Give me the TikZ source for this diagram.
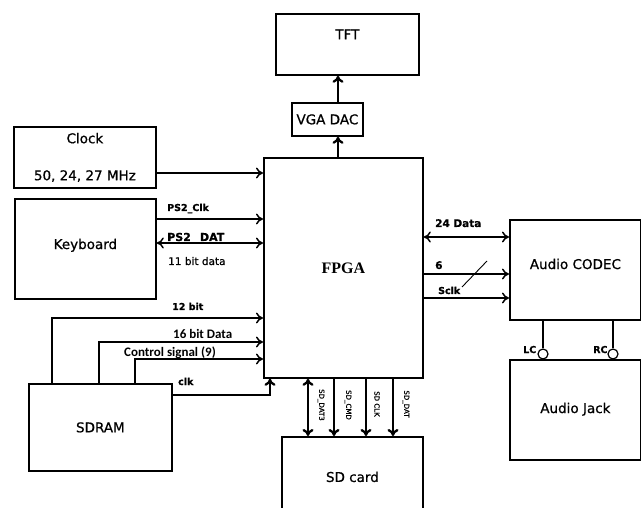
\documentclass[tikz,border=0pt]{standalone}
\usepackage{fontspec}
\setmainfont[FakeBold=0.8]{DejaVu Sans}
\newfontfamily\lblfont{Carlito}
\newfontfamily\chipfont{Liberation Serif}
\usepackage{tikz}
\usetikzlibrary{arrows.meta,positioning,calc}

\begin{document}
\begin{tikzpicture}[x=1pt, y=-1pt,
    blk/.style={rectangle, draw, line width=1.8pt, anchor=north west, inner sep=0pt, align=center, font=\fontsize{13.5}{16}\selectfont},
    sig/.style={-{To[length=7pt,width=11pt]}, line width=1.5pt},
    dsig/.style={{To[length=7pt,width=11pt]}-{To[length=7pt,width=11pt]}, line width=1.5pt},
    bus/.style={-{To[length=7pt,width=11pt]}, line width=2.3pt},
    dbus/.style={{To[length=7pt,width=11pt]}-{To[length=7pt,width=11pt]}, line width=2.3pt},
    lbl/.style={anchor=base west, inner sep=0pt, font=\fontsize{9.5}{11}\selectfont\bfseries},
    clbl/.style={anchor=base west, inner sep=0pt, font=\lblfont\fontsize{13}{15}\selectfont\bfseries},
    sdlbl/.style={rotate=-90, inner sep=0pt, font=\fontsize{7}{8}\selectfont},
    pin/.style={circle, draw, fill=white, line width=1.2pt, minimum size=10pt, inner sep=0pt}
]
    \useasboundingbox (0,0) rectangle (641,508);

    % Blocks
    \node[blk, minimum width=143, minimum height=61] (tft) at (275,13) {TFT\\[4pt]};
    \node[blk, minimum width=71, minimum height=33] (vga) at (291,102) {VGA DAC};
    \node[blk, minimum width=159, minimum height=220, font=\chipfont\fontsize{16}{18}\selectfont\bfseries] (fpga) at (263,157) {FPGA};
    \node[blk, minimum width=142, minimum height=61] (clock) at (13,126) {Clock\\[21pt]50, 24, 27 MHz};
    \node[blk, minimum width=141, minimum height=100] (keyb) at (14,198) {Keyboard\\[-6pt]};
    \node[blk, minimum width=143, minimum height=87] (sdram) at (28,383) {SDRAM};
    \node[blk, minimum width=141, minimum height=80] (sdcard) at (281,436) {SD card};
    \node[blk, minimum width=131, minimum height=100] (codec) at (509,219) {Audio CODEC\\[-4pt]};
    \node[blk, minimum width=131, minimum height=100] (jack) at (509,359) {Audio Jack\\[-12pt]};

    % Video path
    \coordinate (vbus) at (338,0);
    \draw[bus] (fpga.north -| vbus) -- (vga.south -| vbus);
    \draw[bus] (vga.north -| vbus) -- (tft.south -| vbus);

    % Inputs on the left side of the FPGA
    \coordinate (in-clock) at (263,173);
    \coordinate (in-ps2clk) at (263,219);
    \coordinate (in-ps2dat) at (263,243);
    \coordinate (in-addr) at (263,318);
    \coordinate (in-data) at (263,342);
    \coordinate (in-ctrl) at (263,359);
    \draw[sig] (clock.east |- in-clock) -- (in-clock);
    \draw[sig] (keyb.east |- in-ps2clk) -- (in-ps2clk);
    \draw[dsig] (keyb.east |- in-ps2dat) -- (in-ps2dat);
    \node[lbl] at (167,211) {PS2\_Clk};
    \node[lbl, font=\fontsize{11}{13}\selectfont\bfseries] at (167,241) {PS2\_\,\,DAT};
    \node[lbl, font=\fontsize{10.5}{12}\selectfont] at (168,265) {11 bit data};

    % SDRAM
    \coordinate (tap-addr) at (52,0);
    \coordinate (tap-data) at (99,0);
    \coordinate (tap-ctrl) at (135,0);
    \coordinate (out-clk) at (0,395);
    \coordinate (in-clk) at (270,0);
    \draw[sig] (sdram.north -| tap-addr) |- (in-addr);
    \draw[sig] (sdram.north -| tap-data) |- (in-data);
    \draw[sig] (sdram.north -| tap-ctrl) |- (in-ctrl);
    \draw[line width=1.5pt] (sdram.east |- out-clk) -| (in-clk |- fpga.south);
    \draw[bus] ($(in-clk |- out-clk)+(0,-1)$) -- (in-clk |- fpga.south);
    \node[lbl] at (172,310) {12 bit};
    \node[clbl] at (173,339) {16 bit Data};
    \node[clbl] at (124,356) {Control signal (9)};
    \node[lbl] at (178,385) {clk};

    % SD card
    \coordinate (sd-dat3) at (308,0);
    \coordinate (sd-cmd) at (334,0);
    \coordinate (sd-clk) at (366,0);
    \coordinate (sd-dat) at (393,0);
    \draw[dbus] (fpga.south -| sd-dat3) -- (sdcard.north -| sd-dat3);
    \draw[bus] (fpga.south -| sd-cmd) -- (sdcard.north -| sd-cmd);
    \draw[bus] (fpga.south -| sd-clk) -- (sdcard.north -| sd-clk);
    \draw[bus] (fpga.south -| sd-dat) -- (sdcard.north -| sd-dat);
    \node[sdlbl] at (321,405) {SD\_DAT3};
    \node[sdlbl] at (348,405) {SD\_CMD};
    \node[sdlbl] at (377,404) {SD CLK};
    \node[sdlbl] at (406,404) {SD\_DAT};

    % Audio CODEC
    \coordinate (out-data) at (0,237);
    \coordinate (out-six) at (0,274);
    \coordinate (out-sclk) at (0,298);
    \draw[dsig] (fpga.east |- out-data) -- (codec.west |- out-data);
    \draw[sig] (fpga.east |- out-six) -- (codec.west |- out-six);
    \draw[sig] (fpga.east |- out-sclk) -- (codec.west |- out-sclk);
    \coordinate (slash-a) at (462,287);
    \coordinate (slash-b) at (487,261);
    \draw[line width=0.9pt] (slash-a) -- (slash-b);
    \node[lbl, font=\fontsize{10.5}{12}\selectfont\bfseries] at (435,227) {24 Data};
    \node[lbl, font=\fontsize{10.5}{12}\selectfont\bfseries] at (435,269) {6};
    \node[lbl] at (438,294) {Sclk};

    % Audio Jack
    \node[pin] (lc) at (543,354) {};
    \node[pin] (rc) at (613,354) {};
    \draw[line width=2.4pt] (codec.south -| lc) -- (lc.north);
    \draw[line width=2.4pt] (codec.south -| rc) -- (rc.north);
    \node[lbl] at (523,353) {LC};
    \node[lbl] at (593,353) {RC};
\end{tikzpicture}
\end{document}
